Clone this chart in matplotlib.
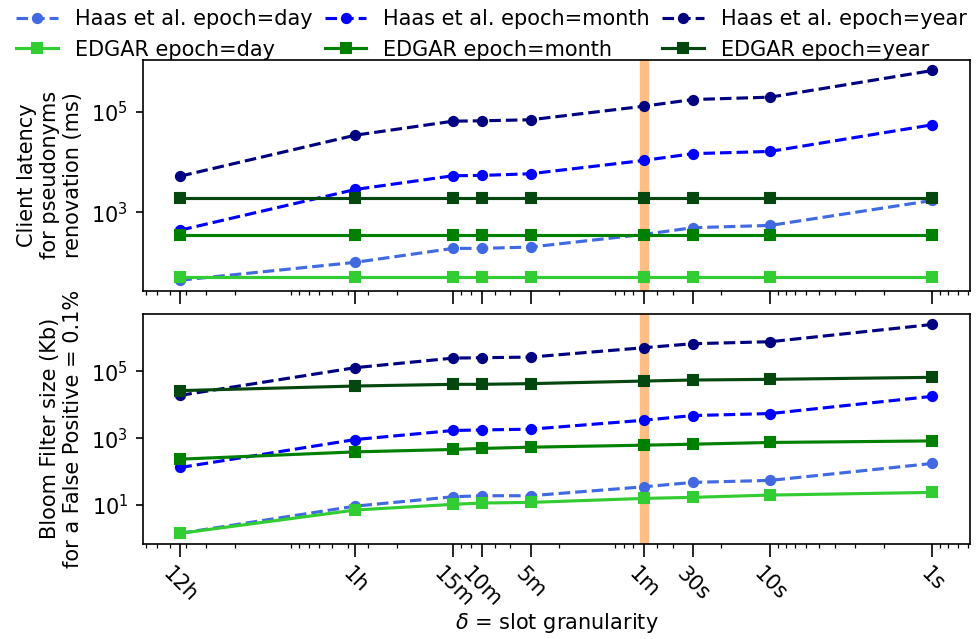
import matplotlib
matplotlib.use('Agg')
import matplotlib.pyplot as plt
from matplotlib.ticker import FixedLocator, NullLocator

plt.rcParams['font.size'] = 10

# ---- data ----
slot_labels = ['12h', '1h', '15m', '10m', '5m', '1m', '30s', '10s', '1s']
slot_seconds = [43200, 3600, 900, 600, 300, 60, 30, 10, 1]
highlight_slot = 60

# Client latency for pseudonyms renovation (ms)
lat_haas_day = [45, 102, 193, 193, 205, 366, 497, 552, 1730]
lat_haas_month = [445, 2860, 5360, 5430, 5870, 10800, 14700, 16300, 55200]
lat_haas_year = [5260, 34300, 65000, 66200, 69300, 129000, 175000, 195000, 661000]
lat_edgar_day = [52, 52, 52, 52, 52, 52, 52, 52, 52]
lat_edgar_month = [360, 360, 360, 360, 360, 360, 360, 360, 360]
lat_edgar_year = [1960, 1960, 1960, 1960, 1960, 1960, 1960, 1960, 1960]

# Bloom filter size (Kb) for FP = 0.1%
bf_haas_day = [1.43, 9.3, 17.7, 19.0, 19.0, 35.2, 47.6, 54.6, 176]
bf_haas_month = [133, 914, 1700, 1770, 1860, 3450, 4760, 5460, 17900]
bf_haas_year = [19200, 129000, 249000, 256000, 267000, 510000, 671000, 770000, 2530000]
bf_edgar_day = [1.43, 7.1, 10.5, 11.5, 12.0, 15.8, 17.0, 19.9, 23.9]
bf_edgar_month = [236, 390, 460, 493, 539, 618, 662, 745, 830]
bf_edgar_year = [26500, 36400, 40900, 40900, 42900, 51300, 55000, 57700, 66200]

lat_yticks = [1e3, 1e5]
bf_yticks = [1e1, 1e3, 1e5]

# ---- figure ----
DPI = 150
fig = plt.figure(figsize=(977 / DPI, 639 / DPI), dpi=DPI)
ax1 = fig.add_axes([0.1461, 0.5451, 0.8468, 0.3610])
ax2 = fig.add_axes([0.1461, 0.1491, 0.8468, 0.3595], sharex=ax1)

ms = 4.4
c_day_h, c_month_h, c_year_h = 'royalblue', 'blue', 'navy'
c_day_e, c_month_e, c_year_e = 'limegreen', 'green', '#05480f'
series_lat = [
    (lat_haas_day, c_day_h, '--', 'o', 'Haas et al. epoch=day'),
    (lat_edgar_day, c_day_e, '-', 's', 'EDGAR epoch=day'),
    (lat_haas_month, c_month_h, '--', 'o', 'Haas et al. epoch=month'),
    (lat_edgar_month, c_month_e, '-', 's', 'EDGAR epoch=month'),
    (lat_haas_year, c_year_h, '--', 'o', 'Haas et al. epoch=year'),
    (lat_edgar_year, c_year_e, '-', 's', 'EDGAR epoch=year'),
]
series_bf = [
    (bf_haas_day, c_day_h, '--', 'o', 'Haas et al. epoch=day'),
    (bf_edgar_day, c_day_e, '-', 's', 'EDGAR epoch=day'),
    (bf_haas_month, c_month_h, '--', 'o', 'Haas et al. epoch=month'),
    (bf_edgar_month, c_month_e, '-', 's', 'EDGAR epoch=month'),
    (bf_haas_year, c_year_h, '--', 'o', 'Haas et al. epoch=year'),
    (bf_edgar_year, c_year_e, '-', 's', 'EDGAR epoch=year'),
]

for ax, series in ((ax1, series_lat), (ax2, series_bf)):
    ax.axvline(highlight_slot, color='tab:orange', alpha=0.5, lw=4.5, zorder=1)
    for vals, c, ls, mk, lab in series:
        ax.plot(slot_seconds, vals, color=c, linestyle=ls, marker=mk,
                markersize=ms, label=lab, zorder=2)
    ax.set_xscale('log')
    ax.set_yscale('log')

ax1.yaxis.set_major_locator(FixedLocator(lat_yticks))
ax1.yaxis.set_minor_locator(NullLocator())
ax2.yaxis.set_major_locator(FixedLocator(bf_yticks))
ax2.yaxis.set_minor_locator(NullLocator())

ax2.set_xticks(slot_seconds)
ax2.set_xticklabels(slot_labels, rotation=-45, ha='center')
ax1.invert_xaxis()
ax1.tick_params(axis='x', labelbottom=False)
for ax in (ax1, ax2):
    ax.tick_params(axis='x', which='major', length=6)

ax1.set_ylabel('Client latency\nfor pseudonyms\nrenovation (ms)')
ax2.set_ylabel('Bloom Filter size (Kb)\nfor a False Positive = 0.1%')
ax2.set_xlabel(r'$\delta$ = slot granularity', labelpad=0)

handles, labels = ax1.get_legend_handles_labels()
fig.legend(handles, labels, loc='upper center', ncol=3, frameon=False,
           bbox_to_anchor=(0.503, 1.015), columnspacing=0.6)

fig.savefig('out.png', dpi=DPI)
